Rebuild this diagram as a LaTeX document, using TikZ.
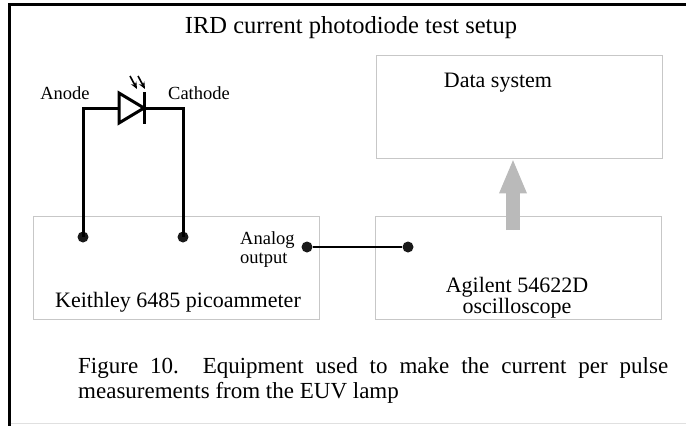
\documentclass[tikz,border=0pt]{standalone}
\usepackage{fontspec}
\setmainfont{Liberation Serif}
\usetikzlibrary{arrows.meta}
\usetikzlibrary{positioning}
\tikzset{
    devbox/.style = {rectangle, draw=black!22, line width=0.9pt, minimum width=286pt, minimum height=103pt, inner sep=0pt},
    jack/.style = {circle, fill=black!90, inner sep=0pt, minimum size=11pt},
    wire/.style = {-, line width=3pt},
    sigwire/.style = {-, line width=2.3pt},
    feed/.style = {-{Triangle[width=25pt,length=35pt]}, line width=14pt, draw=black!27, fill=black!27},
    ray/.style = {-{Stealth[length=7pt,width=6pt]}, line width=1.6pt},
    lbl/.style = {font=\fontsize{18.5}{19}\selectfont, inner sep=0pt},
    devtxt/.style = {font=\fontsize{22}{21}\selectfont, inner sep=0pt, align=center},
}
\begin{document}
\begin{tikzpicture}[x=1pt, y=-1pt]
\useasboundingbox (0,0) rectangle (686,426);
% frame
\draw[line width=3pt] (9,426) -- (9,4.5) -- (686,4.5);
\draw[black!12, line width=1pt] (10.5,423.5) -- (686,423.5);
\node[font=\fontsize{24.5}{26}\selectfont, anchor=base, inner sep=0pt] (title) at (351,33) {IRD current photodiode test setup};
%
\node[devbox] at (519.0,106.5) (dsys) {};
\node[devbox] at (518.0,268.0) (osc) {};
\node[devbox] at (176.0,267.5) (keith) {};
\node[devtxt, anchor=base] at (498,87) (dsystxt) {Data system};
\node[devtxt, anchor=base] at (517,313) (osctxt) {Agilent 54622D\\oscilloscope};
\node[devtxt, anchor=base] at (178,307) (keithtxt) {Keithley 6485 picoammeter};
%
\node[jack] at (83,237) (anodept) {};
\node[jack] at (183,237) (cathodept) {};
\node[jack] at (307,247) (outpt) {};
\node[jack] at (408,247) (inpt) {};
\node[lbl, anchor=base] at (65,99) (anode) {Anode};
\node[lbl, anchor=base] at (199,99) (cathode) {Cathode};
\node[lbl, anchor=north west, align=left] at (240,231) (analog) {Analog\\output};
% photodiode
\coordinate (da) at (119,108);
\coordinate (dk) at (144,108);
\draw[wire, line join=miter] (119,93) -- (144,108) -- (119,123) -- cycle;
\draw[wire] (144,92) -- (144,124);
\draw[ray] (130,76) -- (137,89);
\draw[ray] (138,76) -- (145,89);
%
\draw[wire] (anodept.center) |- (da);
\draw[wire] (dk) -| (cathodept.center);
\draw[sigwire] (outpt) -- (inpt);
%
\coordinate (foot) at (513,230);
\draw[feed] (foot) -- (foot |- dsys.south);
%
\node[anchor=base west, text width=590pt, align=justify, inner sep=0pt, font=\fontsize{23}{25.5}\selectfont] at (78,373) (caption) {Figure 10.\ \ Equipment used to make the current per pulse\linebreak measurements from the EUV lamp};
\end{tikzpicture}
\end{document}
